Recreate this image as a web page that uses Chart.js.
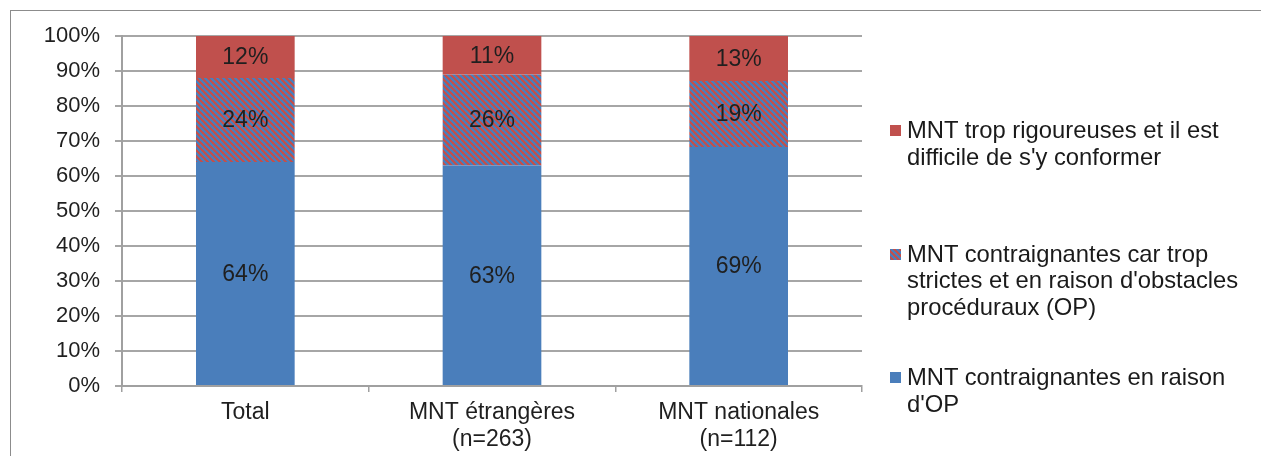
<!DOCTYPE html>
<html lang="fr">
<head>
<meta charset="utf-8">
<title>MNT contraignantes</title>
<script src="https://cdn.jsdelivr.net/npm/chart.js@4.4.1/dist/chart.umd.min.js"></script>
<style>
    html, body { margin: 0; padding: 0; background: #fff; }
    #wrap {
        position: relative;
        width: 1261px;
        height: 456px;
        overflow: hidden;
        font-family: 'Liberation Sans', Arial, sans-serif;
    }
    #frame {
        position: absolute;
        left: 10px;
        top: 10px;
        width: 1270px;
        height: 470px;
        border: 1px solid #8c8c8c;
    }
    #chart { position: absolute; left: 0; top: 0; }
    #legend {
        position: absolute;
        left: 890px;
        top: 117px;
        color: #1a1a1a;
        font-size: 23.8px;
        line-height: 26.7px;
    }
    .item {
        position: relative;
        height: 123.5px;
        padding-left: 17px;
        white-space: nowrap;
    }
    .swatch {
        position: absolute;
        left: 0;
        top: 8px;
        width: 11px;
        height: 11px;
    }
</style>
</head>
<body>
<div id="wrap">
    <div id="frame"></div>
    <canvas id="chart" width="1261" height="456"></canvas>
    <div id="legend"></div>
</div>

<script>
/* --- Data --- */
const categories = [['Total'], ['MNT étrangères', '(n=263)'], ['MNT nationales', '(n=112)']];

const seriesNames = [
    ["MNT contraignantes en raison", "d'OP"],
    ["MNT contraignantes car trop", "strictes et en raison d'obstacles", "procéduraux (OP)"],
    ["MNT trop rigoureuses et il est", "difficile de s'y conformer"]
];

const opOnly      = [64, 63, 69];   // MNT contraignantes en raison d'OP
const strictAndOp = [24, 26, 19];   // trop strictes + obstacles procéduraux
const tooStrict   = [12, 11, 13];   // trop rigoureuses

const yTicks = [0, 10, 20, 30, 40, 50, 60, 70, 80, 90, 100];

const BLUE = '#4a7ebb';
const RED = '#c0504d';
const FONT = "'Liberation Sans', Arial, sans-serif";

/* --- Hatch pattern (red / blue diagonal stripes) --- */
function stripeTile(size) {
    const c = document.createElement('canvas');
    c.width = c.height = size;
    const g = c.getContext('2d');
    for (let y = 0; y < size; y++) {
        for (let x = 0; x < size; x++) {
            g.fillStyle = ((x - y + size) % size) < size / 2 ? BLUE : RED;
            g.fillRect(x, y, 1, 1);
        }
    }
    return c;
}

const tile = stripeTile(6);
const hatch = document.createElement('canvas').getContext('2d').createPattern(tile, 'repeat');

// 100% stacked: every column is scaled to its own total
const series = [opOnly, strictAndOp, tooStrict];
const totals = categories.map((_, j) => series.reduce((s, arr) => s + arr[j], 0));
const asShare = (arr) => arr.map((v, j) => v / totals[j] * 100);

const fills = [BLUE, hatch, RED];
const swatchCss = [BLUE, `url(${tile.toDataURL()})`, RED];

/* --- Value labels inside the segments --- */
const valueLabels = {
    id: 'valueLabels',
    afterDatasetsDraw(chart) {
        const ctx = chart.ctx;
        ctx.save();
        ctx.font = `23px ${FONT}`;
        ctx.fillStyle = '#1f1f1f';
        ctx.textAlign = 'center';
        ctx.textBaseline = 'middle';
        chart.data.datasets.forEach((ds, i) => {
            chart.getDatasetMeta(i).data.forEach((bar, j) => {
                const p = bar.getProps(['x', 'y', 'base'], true);
                ctx.fillText(series[i][j] + '%', p.x, (p.y + p.base) / 2 + 1);
            });
        });
        ctx.restore();
    }
};

/* --- Chart --- */
new Chart(document.getElementById('chart'), {
    type: 'bar',
    data: {
        labels: categories,
        datasets: series.map((arr, i) => ({
            label: seriesNames[i].join(' '),
            data: asShare(arr),
            backgroundColor: fills[i],
            borderWidth: 0,
            categoryPercentage: 1,
            barPercentage: 0.4
        }))
    },
    options: {
        responsive: false,
        animation: false,
        layout: { padding: { left: 0, right: 399, top: 36, bottom: 0 } },
        plugins: {
            legend: { display: false },
            tooltip: { enabled: false }
        },
        scales: {
            x: {
                stacked: true,
                offset: true,
                grid: {
                    offset: true,
                    drawOnChartArea: false,
                    drawTicks: true,
                    tickLength: 6,
                    color: '#a0a0a0',
                    lineWidth: 1.5
                },
                border: { display: true, color: '#a0a0a0', width: 2 },
                ticks: {
                    color: '#1f1f1f',
                    padding: 7,
                    maxRotation: 0,
                    autoSkip: false,
                    font: { family: FONT, size: 23, lineHeight: 1.17 }
                },
                afterFit: (scale) => { scale.height = 70; }
            },
            y: {
                stacked: true,
                min: 0,
                max: 100,
                afterBuildTicks: (scale) => { scale.ticks = yTicks.map(v => ({ value: v })); },
                grid: {
                    color: '#a6a6a6',
                    lineWidth: 2,
                    drawTicks: true,
                    tickLength: 7
                },
                border: { display: true, color: '#a0a0a0', width: 2 },
                ticks: {
                    color: '#1f1f1f',
                    padding: 15,
                    font: { family: FONT, size: 22 },
                    callback: (v) => v + '%'
                },
                afterFit: (scale) => { scale.width = 122; }
            }
        }
    },
    plugins: [valueLabels]
});

/* --- Legend (top item = top segment) --- */
const legend = document.getElementById('legend');
for (let i = seriesNames.length - 1; i >= 0; i--) {
    const item = document.createElement('div');
    item.className = 'item';
    const sw = document.createElement('span');
    sw.className = 'swatch';
    sw.style.background = swatchCss[i];
    item.appendChild(sw);
    item.insertAdjacentHTML('beforeend', seriesNames[i].map(t => t.replace(/&/g, '&amp;').replace(/</g, '&lt;')).join('<br>'));
    legend.appendChild(item);
}
</script>
</body>
</html>
